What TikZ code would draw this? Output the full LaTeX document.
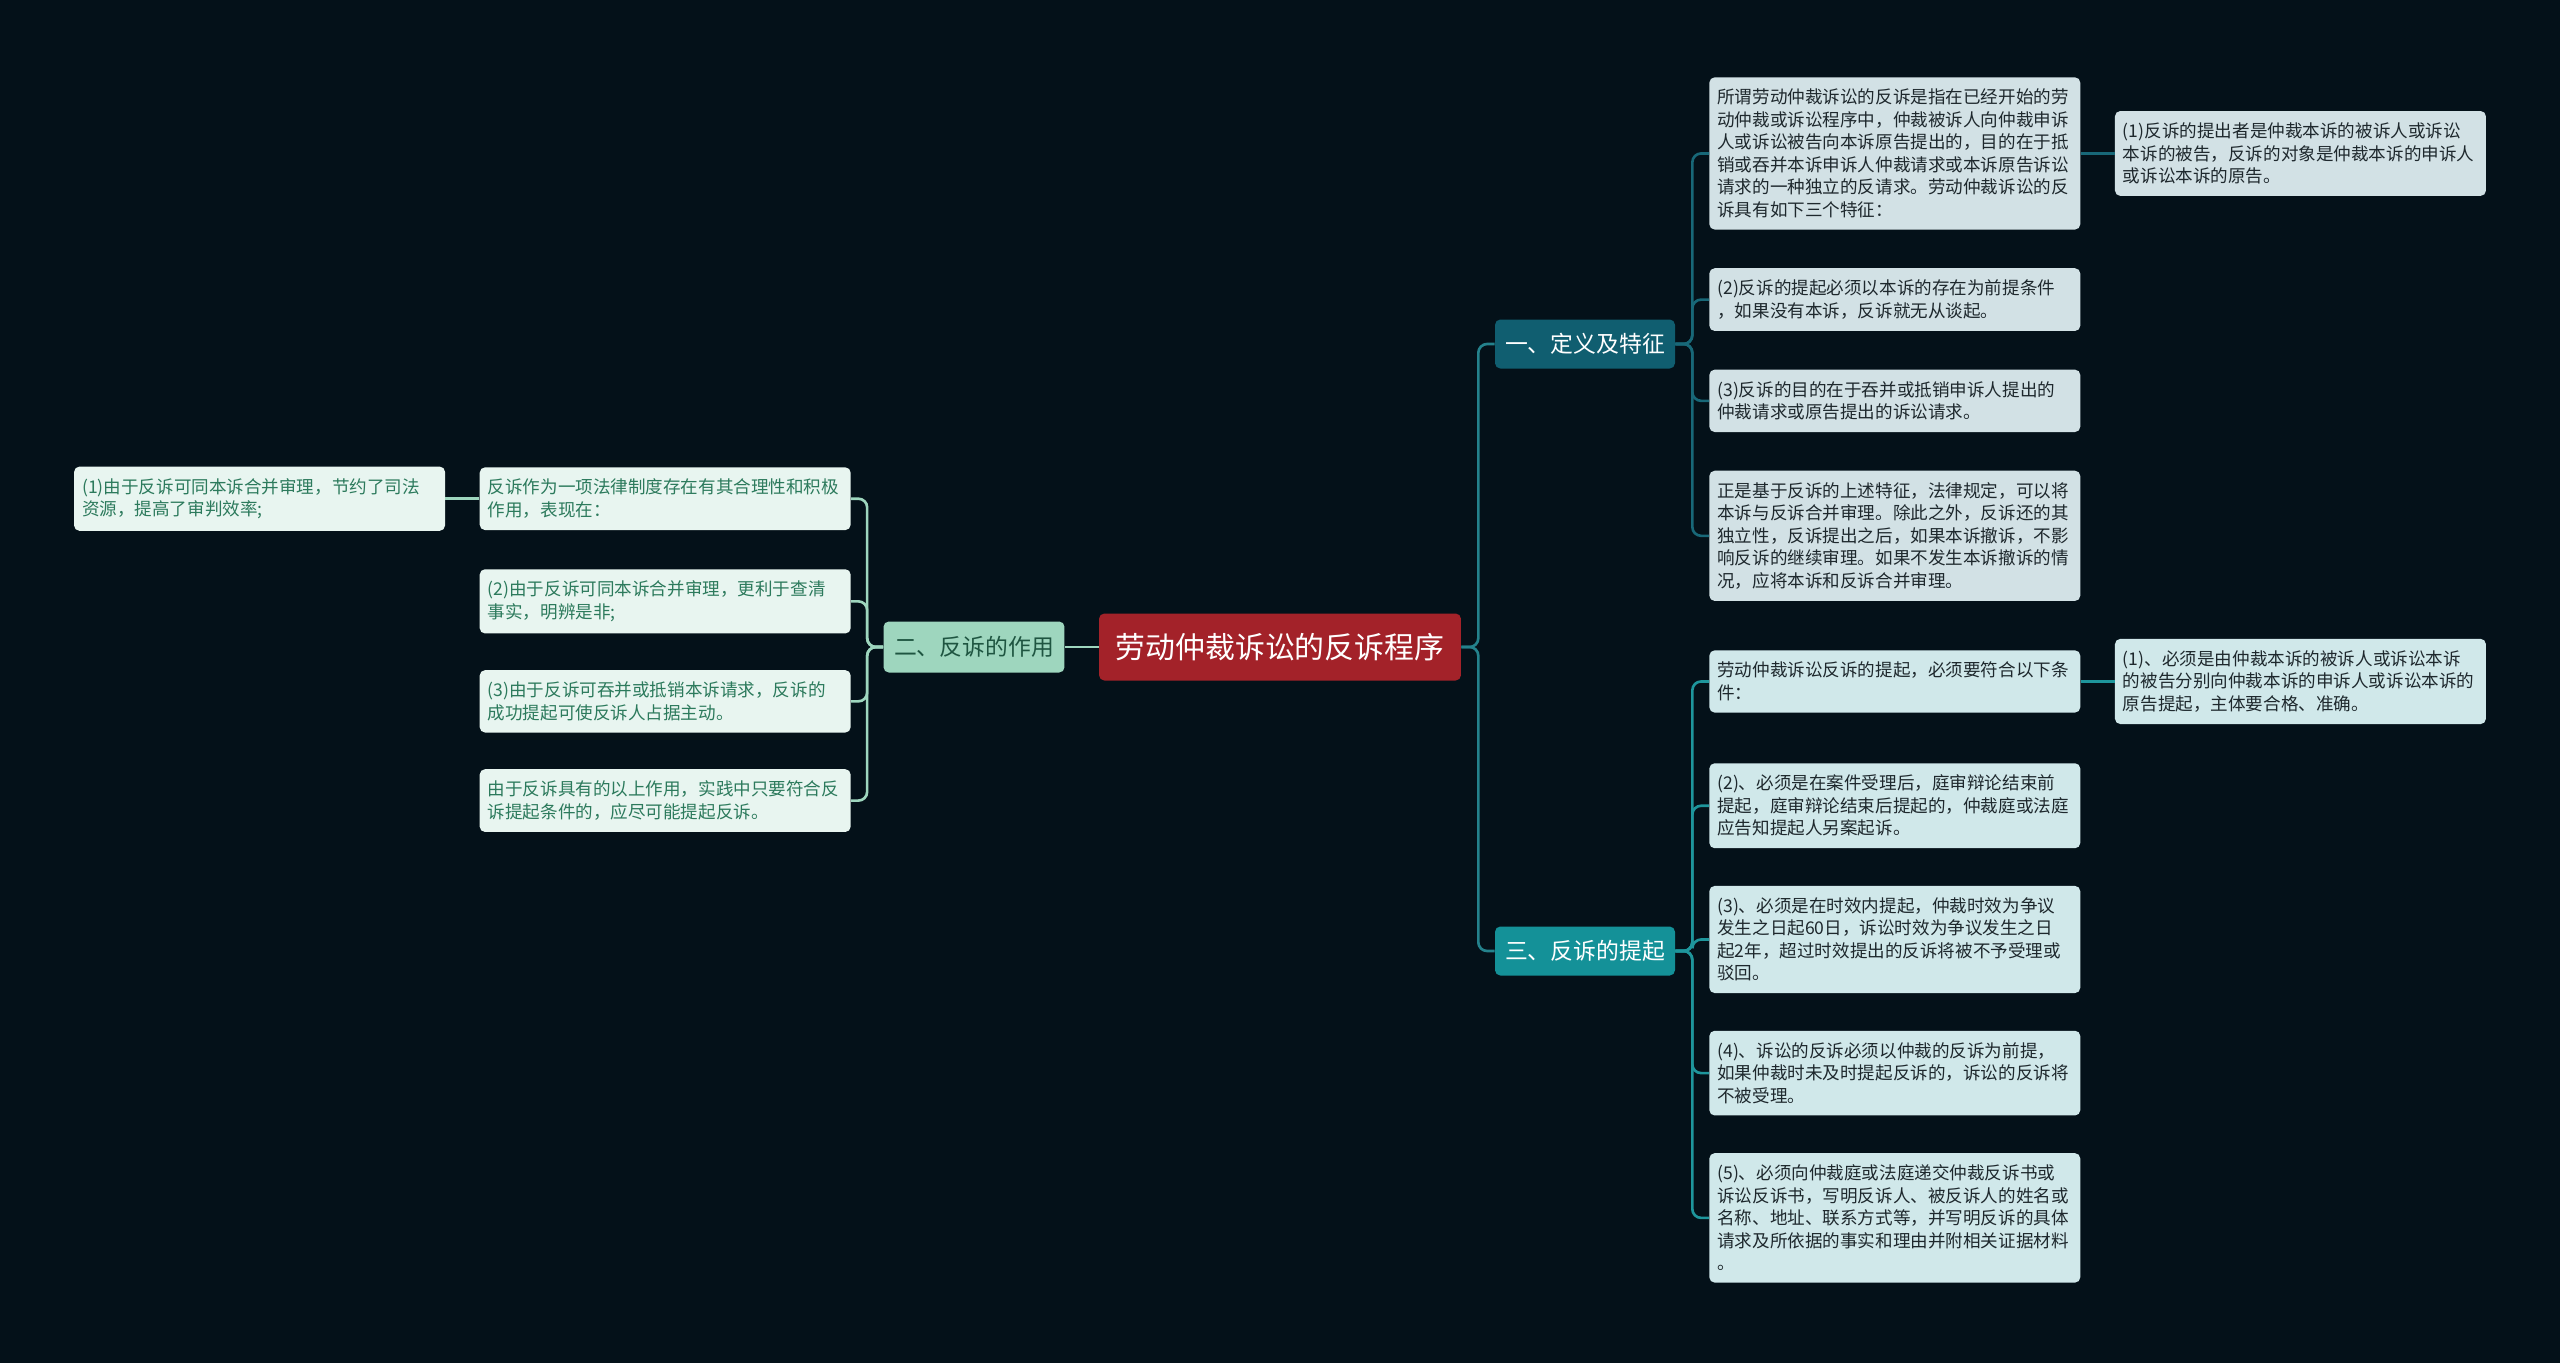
\documentclass[tikz,border=0pt]{standalone}
\usepackage{fontspec}
\setmainfont{Noto Sans CJK SC}
\usepackage{tikz}
\usetikzlibrary{positioning}

\definecolor{bgdark}{RGB}{4,17,25}
\definecolor{rootred}{RGB}{163,34,41}
\definecolor{catone}{RGB}{16,94,112}
\definecolor{catthree}{RGB}{20,145,152}
\definecolor{cattwo}{RGB}{158,214,190}
\definecolor{leafone}{RGB}{210,225,229}
\definecolor{leafthree}{RGB}{208,232,234}
\definecolor{leaftwo}{RGB}{232,245,240}
\definecolor{txtdark}{RGB}{30,40,45}
\definecolor{txtgreen}{RGB}{44,122,92}
\definecolor{linkroot}{RGB}{36,130,140}
\definecolor{linkone}{RGB}{24,104,120}
\definecolor{linkthree}{RGB}{30,150,156}
\definecolor{linktwo}{RGB}{158,214,190}

\begin{document}
\begin{tikzpicture}[
  x=0.02cm, y=-0.02cm,
  root/.style={rectangle, rounded corners=3pt, fill=rootred, text=white, minimum width=7.24cm, minimum height=1.34cm, font=\fontsize{17}{20}\selectfont},
  cat/.style={rectangle, rounded corners=3pt, minimum width=3.6cm, minimum height=0.98cm, font=\fontsize{13}{16}\selectfont},
  leaf/.style={rectangle, rounded corners=3pt, text width=7.1cm, inner xsep=0.16cm, inner ysep=0.235cm, align=left, font=\fontsize{10}{12.8}\selectfont},
  rleaf/.style={leaf, fill=leafone, text=txtdark},
  tleaf/.style={leaf, fill=leafthree, text=txtdark},
  lleaf/.style={leaf, fill=leaftwo, text=txtgreen},
  link/.style={line width=1.5pt, rounded corners=5pt}
]

\fill[bgdark] (0,0) rectangle (2560,1363);

% centre and first level
\node[root] (root) at (1280,647) {劳动仲裁诉讼的反诉程序};
\node[cat, fill=catone, text=white] (def) at (1585,344) {一、定义及特征};
\node[cat, fill=catthree, text=white] (raise) at (1585,951) {三、反诉的提起};
\node[cat, fill=cattwo, text=txtgreen!70!black, minimum width=3.62cm, minimum height=1.02cm] (use) at (974,647) {二、反诉的作用};

% 一、定义及特征
\node[rleaf, anchor=north west] (d0) at (1709,77) {所谓劳动仲裁诉讼的反诉是指在已经开始的劳\\动仲裁或诉讼程序中，仲裁被诉人向仲裁申诉\\人或诉讼被告向本诉原告提出的，目的在于抵\\销或吞并本诉申诉人仲裁请求或本诉原告诉讼\\请求的一种独立的反请求。劳动仲裁诉讼的反\\诉具有如下三个特征：};
\node[rleaf, right=0.68cm of d0] (d0r) {(1)反诉的提出者是仲裁本诉的被诉人或诉讼\\本诉的被告，反诉的对象是仲裁本诉的申诉人\\或诉讼本诉的原告。};
\node[rleaf, below=0.76cm of d0] (d1) {(2)反诉的提起必须以本诉的存在为前提条件\\，如果没有本诉，反诉就无从谈起。};
\node[rleaf, below=0.76cm of d1] (d2) {(3)反诉的目的在于吞并或抵销申诉人提出的\\仲裁请求或原告提出的诉讼请求。};
\node[rleaf, below=0.76cm of d2] (d3) {正是基于反诉的上述特征，法律规定，可以将\\本诉与反诉合并审理。除此之外，反诉还的其\\独立性，反诉提出之后，如果本诉撤诉，不影\\响反诉的继续审理。如果不发生本诉撤诉的情\\况，应将本诉和反诉合并审理。};

% 三、反诉的提起
\node[tleaf, anchor=north west] (t0) at (1709,650) {劳动仲裁诉讼反诉的提起，必须要符合以下条\\件：};
\node[tleaf, right=0.68cm of t0] (t0r) {(1)、必须是由仲裁本诉的被诉人或诉讼本诉\\的被告分别向仲裁本诉的申诉人或诉讼本诉的\\原告提起，主体要合格、准确。};
\node[tleaf, below=1cm of t0] (t1) {(2)、必须是在案件受理后，庭审辩论结束前\\提起，庭审辩论结束后提起的，仲裁庭或法庭\\应告知提起人另案起诉。};
\node[tleaf, below=0.74cm of t1] (t2) {(3)、必须是在时效内提起，仲裁时效为争议\\发生之日起60日，诉讼时效为争议发生之日\\起2年，超过时效提出的反诉将被不予受理或\\驳回。};
\node[tleaf, below=0.74cm of t2] (t3) {(4)、诉讼的反诉必须以仲裁的反诉为前提，\\如果仲裁时未及时提起反诉的，诉讼的反诉将\\不被受理。};
\node[tleaf, below=0.74cm of t3] (t4) {(5)、必须向仲裁庭或法庭递交仲裁反诉书或\\诉讼反诉书，写明反诉人、被反诉人的姓名或\\名称、地址、联系方式等，并写明反诉的具体\\请求及所依据的事实和理由并附相关证据材料\\。};

% 二、反诉的作用
\node[lleaf, anchor=north east] (l0) at (851,467) {反诉作为一项法律制度存在有其合理性和积极\\作用，表现在：};
\node[lleaf, left=0.68cm of l0] (l0l) {(1)由于反诉可同本诉合并审理，节约了司法\\资源，提高了审判效率;};
\node[lleaf, below=0.77cm of l0] (l1) {(2)由于反诉可同本诉合并审理，更利于查清\\事实，明辨是非;};
\node[lleaf, below=0.72cm of l1] (l2) {(3)由于反诉可吞并或抵销本诉请求，反诉的\\成功提起可使反诉人占据主动。};
\node[lleaf, below=0.72cm of l2] (l3) {由于反诉具有的以上作用，实践中只要符合反\\诉提起条件的，应尽可能提起反诉。};

% connectors
\draw[link, linkroot] (root.east) -- ++(17,0) |- (def.west);
\draw[link, linkroot] (root.east) -- ++(17,0) |- (raise.west);
\draw[link, linktwo] (root.west) -- (use.east);
\foreach \n in {d0,d1,d2,d3}
  \draw[link, linkone] (def.east) -- ++(17,0) |- (\n.west);
\draw[link, linkone] (d0.east) -- (d0r.west);
\foreach \n in {t0,t1,t2,t3,t4}
  \draw[link, linkthree] (raise.east) -- ++(17,0) |- (\n.west);
\draw[link, linkthree] (t0.east) -- (t0r.west);
\foreach \n in {l0,l1,l2,l3}
  \draw[link, linktwo] (use.west) -- ++(-16,0) |- (\n.east);
\draw[link, linktwo] (l0.west) -- (l0l.east);

\end{tikzpicture}
\end{document}
